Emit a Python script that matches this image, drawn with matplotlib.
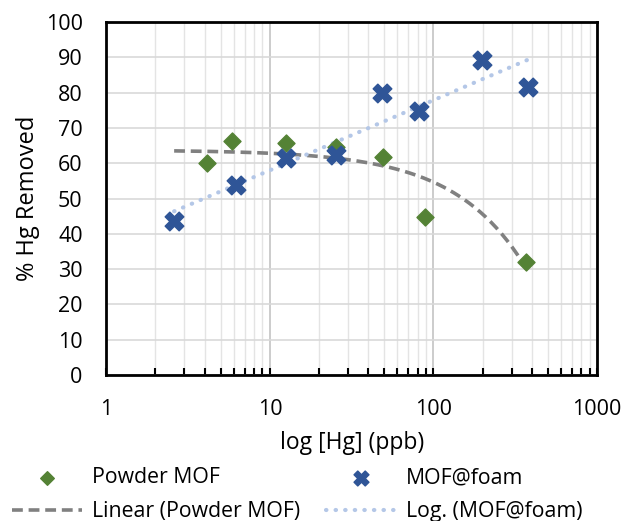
import numpy as np
import matplotlib.pyplot as plt
from matplotlib.ticker import LogLocator, NullFormatter, FixedLocator

plt.rcParams['font.family'] = ['Open Sans', 'DejaVu Sans']

# data
powder_x = [4.1, 5.9, 12.5, 25.3, 49, 89, 370]
powder_y = [60.0, 66.4, 65.8, 64.7, 61.8, 44.8, 32.0]
foam_x = [2.6, 6.2, 12.5, 25.3, 48.3, 82, 197, 377]
foam_y = [43.7, 53.7, 61.4, 62.3, 80.0, 74.8, 89.2, 81.7]

green = '#548235'
blue = '#2F5597'

fig = plt.figure(figsize=(6.4, 5.21), dpi=100)
ax = fig.add_axes([0.166, 0.280, 0.767, 0.678])

# trendlines (least squares, like Excel)
x_lo = min(min(powder_x), min(foam_x))
xs = np.logspace(np.log10(x_lo), np.log10(max(powder_x)), 200)
b, a = np.polyfit(powder_x, powder_y, 1)
ln_trend, = ax.plot(xs, a + b * xs, color='#808080', lw=2.6,
                    linestyle=(0, (3, 1.6)), zorder=3)

xf = np.logspace(np.log10(min(foam_x)), np.log10(max(foam_x)), 200)
c, d = np.polyfit(np.log(foam_x), foam_y, 1)
log_trend, = ax.plot(xf, c * np.log(xf) + d, color='#B4C7E7', lw=3,
                     linestyle=(0, (0.1, 2.2)), dash_capstyle='round', zorder=3)

p_sc = ax.scatter(powder_x, powder_y, marker='D', s=75, color=green, zorder=4)
f_sc = ax.scatter(foam_x, foam_y, marker='X', s=180, color=blue, zorder=5)

ax.set_xscale('log')
ax.set_xlim(1, 1000)
ax.set_ylim(0, 100)
ax.set_yticks(range(0, 101, 10))
ax.xaxis.set_major_locator(FixedLocator([1, 10, 100, 1000]))
ax.set_xticklabels(['1', '10', '100', '1000'])
ax.xaxis.set_minor_locator(LogLocator(base=10, subs=np.arange(2, 10)))
ax.xaxis.set_minor_formatter(NullFormatter())

ax.grid(True, which='major', axis='y', color='#D9D9D9', lw=1.2)
ax.grid(True, which='major', axis='x', color='#C4C4C4', lw=1.2)
ax.grid(True, which='minor', axis='x', color='#E4E4E4', lw=1.0)
ax.set_axisbelow(True)

for s in ax.spines.values():
    s.set_linewidth(2)
    s.set_color('black')

ax.tick_params(axis='x', which='both', direction='in', length=5, width=1.5,
               labelsize=15.5, pad=17)
ax.tick_params(axis='y', length=0, labelsize=15.5, pad=17)

ax.set_xlabel('log [Hg] (ppb)', fontsize=16.5, labelpad=8)
ax.set_ylabel('% Hg Removed', fontsize=17, labelpad=4)

# legend: two columns placed separately
leg_kw = dict(loc='lower left', frameon=False, fontsize=15.3, handlelength=3.3,
              borderpad=0, borderaxespad=0, handletextpad=0.45,
              labelspacing=0.6, markerscale=0.8)
fig.legend([p_sc, ln_trend], ['Powder MOF', 'Linear (Powder MOF)'],
           bbox_to_anchor=(12 / 640, -0.002), **leg_kw)
fig.legend([f_sc, log_trend], ['MOF@foam', 'Log. (MOF@foam)'],
           bbox_to_anchor=(326 / 640, -0.002), **leg_kw)

fig.savefig('out.png', dpi=100)
